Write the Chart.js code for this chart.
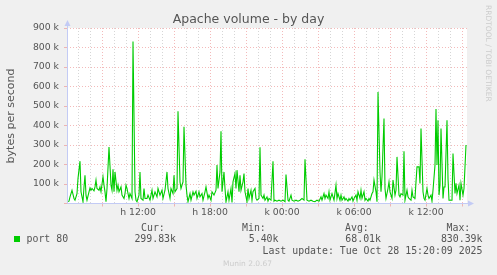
<!DOCTYPE html>
<html>
<head>
<meta charset="utf-8">
<title>Apache volume - by day</title>
<script src="https://cdn.jsdelivr.net/npm/chart.js@4.4.1/dist/chart.umd.min.js"></script>
<style>
  html, body { margin: 0; padding: 0; background: #f0f0f0; }
  canvas { display: block; }
</style>
</head>
<body>
<canvas id="volumeChart" width="497" height="275"></canvas>
<script>
// 5 minute rrd slots, slot 0 = 06:05 the day before, one slot per pixel
const slots = [
  0, 2, 3, 5, 7, 8, 10, 11, 13, 14, 16, 17, 18, 19, 20, 22, 23, 24, 25, 27,
  28, 29, 30, 32, 33, 34, 36, 37, 38, 39, 40, 42, 44, 45, 46, 47, 48, 50, 51, 52,
  54, 55, 57, 58, 59, 60, 62, 63, 65, 66, 68, 69, 70, 72, 73, 74, 76, 77, 78, 80,
  81, 83, 85, 86, 88, 90, 91, 93, 95, 96, 98, 100, 101, 103, 104, 106, 107, 108, 110, 111,
  113, 114, 116, 117, 119, 120, 121, 123, 124, 126, 127, 129, 130, 132, 133, 135, 136, 138, 139, 141,
  142, 144, 145, 147, 149, 150, 151, 153, 154, 155, 157, 158, 159, 161, 162, 164, 165, 166, 168, 169,
  170, 172, 173, 174, 176, 177, 178, 180, 181, 182, 184, 185, 186, 188, 189, 190, 192, 193, 194, 196,
  197, 198, 200, 201, 202, 204, 206, 207, 208, 210, 212, 214, 216, 218, 219, 221, 222, 224, 225, 227,
  229, 231, 233, 235, 237, 238, 240, 242, 244, 246, 248, 250, 252, 254, 255, 257, 258, 259, 261, 262,
  263, 265, 266, 267, 269, 270, 271, 273, 274, 275, 277, 278, 279, 281, 282, 283, 285, 286, 287, 289,
  290, 291, 293, 294, 295, 297, 298, 299, 301, 302, 303, 305, 306, 307, 309, 310, 311, 313, 314, 315,
  317, 318, 319, 321, 322, 323, 325, 326, 328, 329, 330, 332, 333, 334, 336, 337, 338, 340, 341, 342,
  344, 345, 346, 348, 349, 350, 352, 353, 354, 356, 357, 358, 360, 361, 362, 364, 365, 366, 368, 369,
  370, 371, 372, 373, 374, 376, 377, 378, 380, 381, 382, 384, 385, 386, 388, 389, 390, 392, 393, 394,
  396, 397, 399
];

// port 80, kilobytes per second
const port80 = [
  9, 12, 34, 68, 26, 17, 51, 128, 217, 60, 9, 85, 145, 43, 17, 60, 80, 68, 77, 65,
  85, 120, 77, 68, 85, 60, 137, 94, 60, 9, 77, 289, 94, 68, 176, 60, 162, 68, 94, 60,
  85, 43, 26, 51, 94, 77, 26, 51, 26, 830.39, 60, 17, 9, 43, 162, 26, 17, 77, 26, 26,
  43, 17, 68, 26, 60, 34, 77, 43, 68, 26, 68, 162, 77, 26, 77, 51, 145, 60, 77, 473,
  111, 77, 111, 393, 94, 43, 9, 51, 17, 60, 43, 63, 26, 60, 34, 51, 17, 60, 85, 26,
  43, 17, 60, 43, 68, 197, 77, 162, 371, 60, 162, 77, 9, 60, 17, 77, 5.4, 111, 154, 77,
  171, 60, 145, 68, 111, 154, 60, 9, 77, 26, 68, 17, 60, 77, 26, 17, 26, 289, 43, 26,
  43, 17, 34, 12, 26, 17, 217, 12, 17, 12, 17, 12, 17, 9, 149, 17, 12, 43, 17, 12,
  17, 12, 17, 26, 17, 227, 17, 12, 17, 12, 9, 17, 12, 34, 17, 51, 26, 43, 26, 60,
  17, 51, 34, 17, 94, 26, 51, 17, 43, 17, 34, 17, 26, 12, 26, 17, 34, 12, 26, 43,
  17, 60, 26, 68, 26, 60, 17, 26, 12, 26, 17, 51, 60, 120, 60, 9, 572, 162, 60, 137,
  436, 77, 26, 77, 111, 60, 26, 120, 43, 68, 239, 43, 34, 51, 43, 268, 17, 68, 34, 26,
  17, 68, 34, 26, 111, 188, 188, 103, 385, 60, 26, 17, 77, 43, 26, 43, 12, 68, 197, 484,
  197, 427, 43, 94, 385, 26, 85, 85, 427, 128, 17, 17, 17, 256, 51, 103, 51, 94, 17, 103,
  43, 77, 299.83
];

// time axis: a grid line every hour, labels every 6 hours
const labelSlots = [71, 143, 215, 287, 359];
const tickLabels = ['h 12:00', 'h 18:00', 'k 00:00', 'k 06:00', 'k 12:00'];

const statNames = ['Cur:', 'Min:', 'Avg:', 'Max:'];
const statValues = ['299.83k', '5.40k', '68.01k', '830.39k'];

const MAJOR = 'rgba(235,140,140,0.6)';
const MINOR = 'rgba(200,200,200,0.75)';
const AXIS = '#c3cbf5';
const TEXT = '#555555';

const hour_ticks = [];
for (let s = 11; s <= 400; s += 12) hour_ticks.push(s);

// backgrounds, arrows and the rrdtool style texts
const munin_frame = {
  id: 'munin_frame',
  beforeDraw(chart) {
    const {ctx, chartArea: a} = chart;
    ctx.save();
    ctx.fillStyle = '#f0f0f0';
    ctx.fillRect(0, 0, chart.width, chart.height);
    ctx.fillStyle = '#ffffff';
    ctx.fillRect(a.left, a.top, a.right - a.left, a.bottom - a.top);
    ctx.restore();
  },
  afterDraw(chart) {
    const {ctx, chartArea: a} = chart;
    const l = Math.round(a.left) + 0.5, b = Math.round(a.bottom) - 0.5;
    ctx.save();
    // axis arrows
    ctx.strokeStyle = AXIS;
    ctx.fillStyle = AXIS;
    ctx.lineWidth = 1;
    ctx.beginPath();
    ctx.moveTo(l, b); ctx.lineTo(l, a.top - 5);
    ctx.moveTo(l, b); ctx.lineTo(a.right + 5, b);
    ctx.stroke();
    ctx.beginPath();
    ctx.moveTo(l - 3, a.top - 2); ctx.lineTo(l + 3, a.top - 2); ctx.lineTo(l, a.top - 8);
    ctx.fill();
    ctx.beginPath();
    ctx.moveTo(a.right + 1, b - 3); ctx.lineTo(a.right + 1, b + 3); ctx.lineTo(a.right + 7, b);
    ctx.fill();

    // title
    ctx.fillStyle = TEXT;
    ctx.textBaseline = 'middle';
    ctx.textAlign = 'center';
    ctx.font = '12.5px "DejaVu Sans"';
    ctx.fillText('Apache volume - by day', 248.5, 20);

    // vertical unit label
    ctx.save();
    ctx.translate(11, 116);
    ctx.rotate(-Math.PI / 2);
    ctx.font = '11px "DejaVu Sans"';
    ctx.fillText('bytes per second', 0, 0);
    ctx.restore();

    // legend
    ctx.fillStyle = '#00cc00';
    ctx.fillRect(14, 236, 6, 6);
    ctx.fillStyle = TEXT;
    ctx.font = '9.9px "DejaVu Sans Mono"';
    ctx.textAlign = 'left';
    ctx.fillText('port 80', 26.5, 239.5);
    const nameX = [141, 242, 345, 446.5];
    const valueX = [176, 278.5, 381, 482.5];
    statNames.forEach((n, i) => {
      ctx.textAlign = 'left';
      ctx.fillText(n, nameX[i], 228);
      ctx.textAlign = 'right';
      ctx.fillText(statValues[i], valueX[i], 239.5);
    });
    ctx.textAlign = 'right';
    ctx.fillText('Last update: Tue Oct 28 15:20:09 2025', 482.5, 251);

    // watermarks
    ctx.fillStyle = '#cccccc';
    ctx.font = '7.5px "DejaVu Sans"';
    ctx.textAlign = 'center';
    ctx.fillText('Munin 2.0.67', 247.5, 264);
    ctx.translate(488, 5);
    ctx.rotate(Math.PI / 2);
    ctx.textAlign = 'left';
    ctx.fillText('RRDTOOL / TOBI OETIKER', 0, 0);
    ctx.restore();
  }
};

const points = slots.map((s, i) => ({x: s, y: port80[i]}));

new Chart(document.getElementById('volumeChart'), {
  type: 'line',
  data: {
    datasets: [{
      label: 'port 80',
      data: points,
      borderColor: '#00cc00',
      borderWidth: 1.1,
      pointRadius: 0,
      tension: 0,
      fill: false
    }]
  },
  options: {
    responsive: false,
    animation: false,
    events: [],
    layout: { padding: { top: 28, right: 30, left: 0, bottom: 0 } },
    plugins: {
      legend: { display: false },
      title: { display: false },
      tooltip: { enabled: false }
    },
    scales: {
      x: {
        type: 'linear',
        min: 0,
        max: 400,
        afterFit: scale => { scale.height = 71.5; },
        afterBuildTicks: scale => { scale.ticks = hour_ticks.map(v => ({value: v})); },
        grid: {
          color: c => (c.tick && (c.tick.value - 71) % 36 === 0) ? MAJOR : MINOR,
          tickColor: c => (c.tick && (c.tick.value - 71) % 36 === 0) ? MAJOR : 'rgba(0,0,0,0)',
          tickLength: 3,
          lineWidth: 1
        },
        border: { display: false, dash: [1, 2] },
        ticks: {
          autoSkip: false,
          maxRotation: 0,
          padding: 1,
          color: TEXT,
          font: { family: 'DejaVu Sans', size: 9.3 },
          callback: v => {
            const i = labelSlots.indexOf(v);
            return i >= 0 ? tickLabels[i] : '';
          }
        }
      },
      y: {
        min: 0,
        max: 900,
        afterFit: scale => { scale.width = 67; },
        grid: {
          color: c => (c.tick && c.tick.value % 100 === 0) ? MAJOR : MINOR,
          tickColor: c => (c.tick && c.tick.value % 100 === 0) ? MAJOR : 'rgba(0,0,0,0)',
          tickLength: 3,
          lineWidth: 1
        },
        border: { display: false, dash: [1, 2] },
        ticks: {
          stepSize: 50,
          padding: 5,
          color: TEXT,
          font: { family: 'DejaVu Sans', size: 9.3 },
          callback: v => (v === 0 || v % 100 !== 0) ? '' : v + ' k'
        }
      }
    }
  },
  plugins: [munin_frame]
});
</script>
</body>
</html>
